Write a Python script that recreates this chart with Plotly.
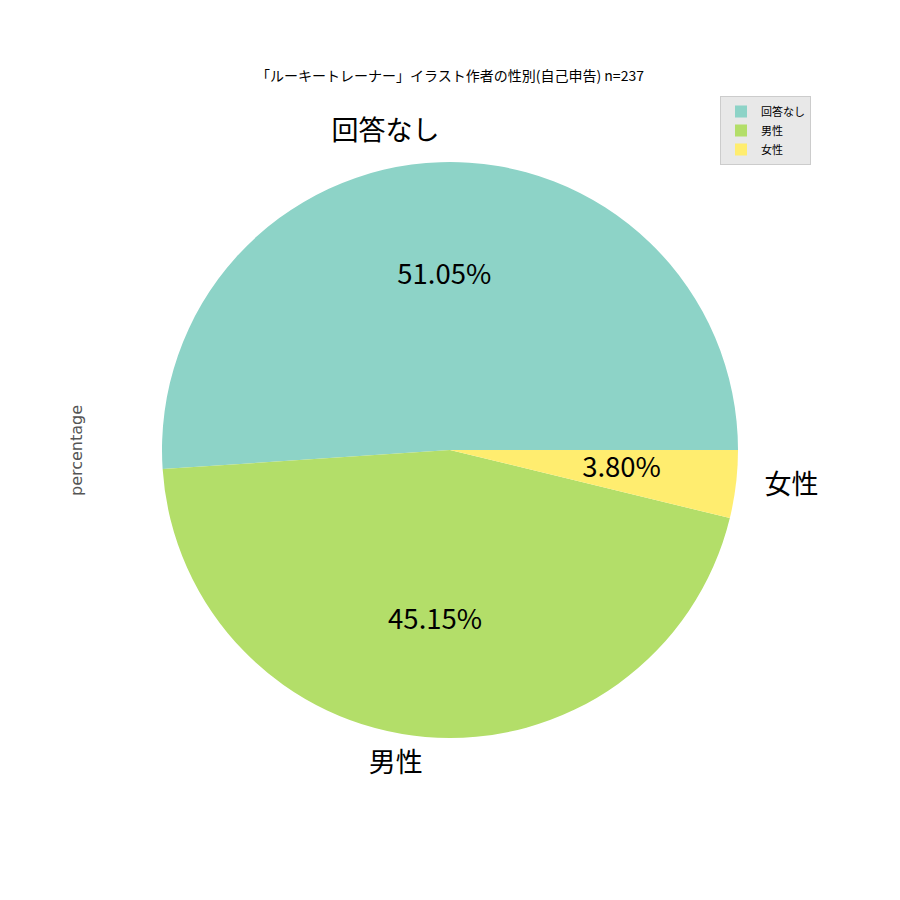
import math
import plotly.graph_objects as go

labels = ["回答なし", "男性", "女性"]
counts = [121, 107, 9]
colors = ["#8dd3c7", "#b3de69", "#ffed6f"]
title_text = "「ルーキートレーナー」イラスト作者の性別(自己申告) n=237"
ylabel = "percentage"

FONT = "Noto Sans CJK JP"
total = sum(counts)

# wedge geometry from the data (start at 3 o'clock, counterclockwise)
spans, mids, pcts = [], [], []
acc = 0.0
for c in counts:
    span = 360.0 * c / total
    spans.append(span)
    mids.append(acc + span / 2)
    pcts.append(f"{100.0 * c / total:.2f}%")
    acc += span

label_pos = ["middle left" if math.cos(math.radians(m)) < 0 else "middle right" for m in mids]

RMAX = 1.25  # radial range so that outer labels at r=1.1 fit inside the polar area

fig = go.Figure()
for lab, c, col, sp, md in zip(labels, counts, colors, spans, mids):
    fig.add_trace(go.Barpolar(
        r=[1.0], theta=[md], width=[sp], name=lab,
        marker=dict(color=col, line=dict(width=0)), hoverinfo="skip"))
fig.add_trace(go.Scatterpolar(
    r=[0.6] * len(labels), theta=mids, mode="text", text=pcts, textposition="middle center",
    textfont=dict(family=FONT, size=27.5, color="black"), showlegend=False, hoverinfo="skip"))
fig.add_trace(go.Scatterpolar(
    r=[1.1] * len(labels), theta=mids, mode="text", text=labels, textposition=label_pos,
    textfont=dict(family=FONT, size=27, color="black"), showlegend=False, hoverinfo="skip"))

R_px = 288 * RMAX
cx, cy = 442, 442
fig.update_layout(
    width=900, height=900,
    margin=dict(l=0, r=0, t=0, b=0),
    paper_bgcolor="white",
    font=dict(family=FONT, color="black"),
    polar=dict(
        domain=dict(x=[(cx - R_px) / 900, (cx + R_px) / 900],
                    y=[1 - (cy + R_px) / 900, 1 - (cy - R_px) / 900]),
        bgcolor="rgba(0,0,0,0)",
        radialaxis=dict(range=[0, RMAX], visible=False, showgrid=False),
        angularaxis=dict(visible=False, showgrid=False, rotation=0, direction="counterclockwise"),
    ),
    title=dict(text=title_text, x=cx / 900, xanchor="center", y=1 - 68 / 900, yanchor="middle",
               font=dict(family=FONT, size=14, color="black")),
    legend=dict(x=712 / 900, y=1 - 88 / 900, xanchor="left", yanchor="top",
                bgcolor="#e8e8e8", bordercolor="#cccccc", borderwidth=1,
                font=dict(family=FONT, size=11), itemwidth=30, tracegroupgap=0),
    annotations=[dict(text=ylabel, textangle=-90, x=68 / 900, y=1 - 443 / 900,
                      xref="paper", yref="paper", xanchor="center", yanchor="middle",
                      showarrow=False, font=dict(family="DejaVu Sans", size=16, color="#555555"))],
)

fig.write_html("out.html")
